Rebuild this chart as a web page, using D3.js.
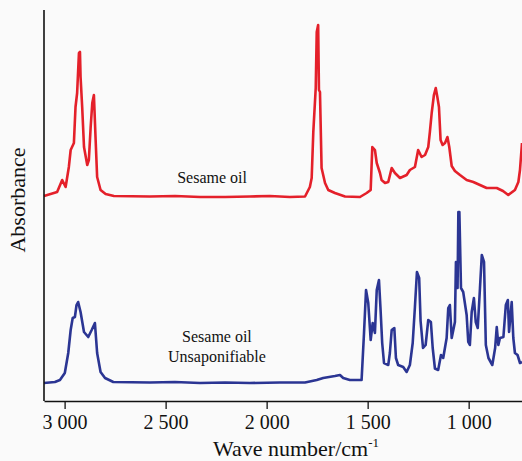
<!DOCTYPE html>
<html lang="en">
<head>
<meta charset="utf-8">
<title>IR spectra</title>
<script src="https://d3js.org/d3.v7.min.js"></script>
<style>
  body { margin: 0; background: #fafafa; }
  text { font-family: "Liberation Serif", "Times New Roman", serif; fill: #111; }
</style>
</head>
<body>
<script>
// wave numbers (cm-1) and absorbance (a.u., traces offset)
const oilWave = [3102, 3037, 3012, 2995, 2979, 2970, 2954, 2946, 2938, 2929, 2924, 2921, 2913, 2904, 2888, 2880, 2871, 2863, 2855, 2847, 2839, 2822, 2797, 2756,
  2578, 2453, 2330, 2206, 2083, 1984, 1885, 1810, 1786, 1777, 1769, 1757, 1752, 1745, 1741, 1736, 1728, 1711, 1695, 1662, 1612, 1538, 1505, 1485,
  1477, 1464, 1455, 1439, 1431, 1414, 1398, 1381, 1365, 1340, 1307, 1291, 1266, 1250, 1233, 1216, 1200, 1192, 1183, 1172, 1163, 1155, 1147, 1139,
  1129, 1117, 1105, 1096, 1084, 1068, 1043, 1010, 977, 944, 911, 861, 830, 804, 771, 754, 746, 736];
const oilAbs = [2.05, 2.09, 2.21, 2.14, 2.34, 2.51, 2.58, 2.94, 3.08, 3.48, 3.49, 3.24, 2.94, 2.54, 2.36, 2.41, 2.74, 2.98, 3.06, 2.64, 2.24, 2.11, 2.07, 2.05,
  2.045, 2.05, 2.04, 2.04, 2.045, 2.05, 2.04, 2.045, 2.14, 2.23, 2.69, 3.13, 3.69, 3.76, 3.11, 3.09, 2.33, 2.18, 2.11, 2.08, 2.045, 2.04, 2.08, 2.11,
  2.54, 2.51, 2.38, 2.28, 2.21, 2.18, 2.19, 2.33, 2.28, 2.23, 2.26, 2.31, 2.34, 2.51, 2.44, 2.46, 2.54, 2.69, 2.88, 3.06, 3.13, 3.04, 2.94, 2.61,
  2.56, 2.58, 2.64, 2.54, 2.35, 2.30, 2.26, 2.21, 2.19, 2.16, 2.13, 2.13, 2.10, 2.06, 2.11, 2.19, 2.31, 2.58];

const unsapWave = [3102, 3048, 3023, 2999, 2982, 2970, 2960, 2949, 2941, 2933, 2921, 2904, 2883, 2866, 2850, 2839, 2822, 2800, 2759,
  2578, 2454, 2330, 2206, 2083, 1934, 1810, 1752, 1720, 1662, 1637, 1621, 1588, 1530, 1518, 1508, 1497, 1485, 1475, 1464, 1455, 1444, 1436,
  1428, 1419, 1398, 1390, 1381, 1368, 1360, 1349, 1324, 1307, 1291, 1277, 1266, 1256, 1245, 1238, 1226, 1213, 1200, 1187, 1178, 1167, 1151,
  1137, 1126, 1109, 1101, 1093, 1084, 1068, 1063, 1055, 1051, 1046, 1038, 1027, 1010, 1002, 994, 985, 974, 965, 955, 944, 935, 924, 915,
  902, 883, 869, 861, 853, 845, 828, 816, 806, 800, 787, 779, 771, 758, 746, 736];
const unsapAbs = [0.18, 0.19, 0.21, 0.28, 0.48, 0.71, 0.83, 0.84, 0.96, 0.99, 0.89, 0.69, 0.64, 0.71, 0.78, 0.48, 0.29, 0.23, 0.19,
  0.185, 0.19, 0.18, 0.185, 0.18, 0.185, 0.185, 0.21, 0.23, 0.25, 0.26, 0.23, 0.21, 0.21, 0.68, 1.11, 0.98, 0.61, 0.78, 0.68, 1.11, 1.21, 0.91,
  0.58, 0.38, 0.36, 0.48, 0.71, 0.73, 0.43, 0.36, 0.34, 0.29, 0.36, 0.58, 0.94, 1.29, 1.23, 0.80, 0.53, 0.56, 0.81, 0.79, 0.53, 0.325, 0.31,
  0.46, 0.43, 0.63, 0.93, 0.96, 0.63, 0.79, 1.39, 1.13, 1.89, 1.89, 1.13, 1.09, 0.86, 0.59, 0.56, 0.89, 1.03, 0.79, 0.73, 1.13, 1.46, 1.39, 0.56,
  0.43, 0.36, 0.53, 0.74, 0.56, 0.63, 0.64, 0.96, 1.01, 0.69, 0.99, 0.63, 0.48, 0.46, 0.38, 0.39];

const xTicks = [3000, 2500, 2000, 1500, 1000];
const traceLabels = [
  { lines: ["Sesame oil"], wave: 2270, abs: 2.18 },
  { lines: ["Sesame oil", "Unsaponifiable"], wave: 2246, abs: 0.59 }
];

const w = 522, h = 461;
const plotLeft = 44, plotRight = 522, plotTop = 10, plotBottom = 401;

const svg = d3.select("body").append("svg")
  .attr("width", w).attr("height", h)
  .style("background", "#fafafa");

const xScale = d3.scaleLinear().domain([3102, 736]).range([plotLeft, plotRight]);
const yScale = d3.scaleLinear().domain([0, 3.91]).range([plotBottom, plotTop]);

const line = d3.line()
  .x(d => xScale(d[0]))
  .y(d => yScale(d[1]));

const oil = oilWave.map((v, i) => [v, oilAbs[i]]);
const unsap = unsapWave.map((v, i) => [v, unsapAbs[i]]);

svg.append("path").datum(oil)
  .attr("d", line)
  .attr("fill", "none")
  .attr("stroke", "#e4202a")
  .attr("stroke-width", 2.6)
  .attr("stroke-linejoin", "round");

svg.append("path").datum(unsap)
  .attr("d", line)
  .attr("fill", "none")
  .attr("stroke", "#2b3593")
  .attr("stroke-width", 2.6)
  .attr("stroke-linejoin", "round");

// axes
const bottomAxis = d3.axisBottom(xScale)
  .tickValues(xTicks)
  .tickSize(8)
  .tickSizeOuter(0)
  .tickFormat(d => d3.format(",")(d).replace(",", " "));

const gx = svg.append("g")
  .attr("transform", "translate(0," + plotBottom + ")")
  .call(bottomAxis)
  .attr("font-family", "Liberation Serif, serif")
  .attr("font-size", 20);
gx.select(".domain").attr("stroke", "#111").attr("stroke-width", 1.6);
gx.selectAll(".tick line").attr("stroke", "#111").attr("stroke-width", 1.3);
gx.selectAll(".tick text")
  .attr("y", 14)
  .attr("fill", "#111");

svg.append("line")
  .attr("x1", plotLeft).attr("x2", plotLeft)
  .attr("y1", plotTop).attr("y2", plotBottom)
  .attr("stroke", "#111").attr("stroke-width", 1.6);

// axis titles
const xt = svg.append("text")
  .attr("x", 296).attr("y", 456)
  .attr("text-anchor", "middle")
  .style("font-size", "22px");
xt.append("tspan").text("Wave number/cm");
xt.append("tspan").attr("dy", -9).style("font-size", "13px").text("-1");

svg.append("text")
  .attr("transform", "translate(25,200) rotate(-90)")
  .attr("text-anchor", "middle")
  .style("font-size", "22px")
  .text("Absorbance");

// trace labels
traceLabels.forEach(l => {
  const t = svg.append("text")
    .attr("x", xScale(l.wave))
    .attr("y", yScale(l.abs))
    .attr("text-anchor", "middle")
    .style("font-size", "16px");
  l.lines.forEach((s, i) => {
    t.append("tspan").attr("x", xScale(l.wave)).attr("dy", i === 0 ? 0 : 20).text(s);
  });
});
</script>
</body>
</html>
